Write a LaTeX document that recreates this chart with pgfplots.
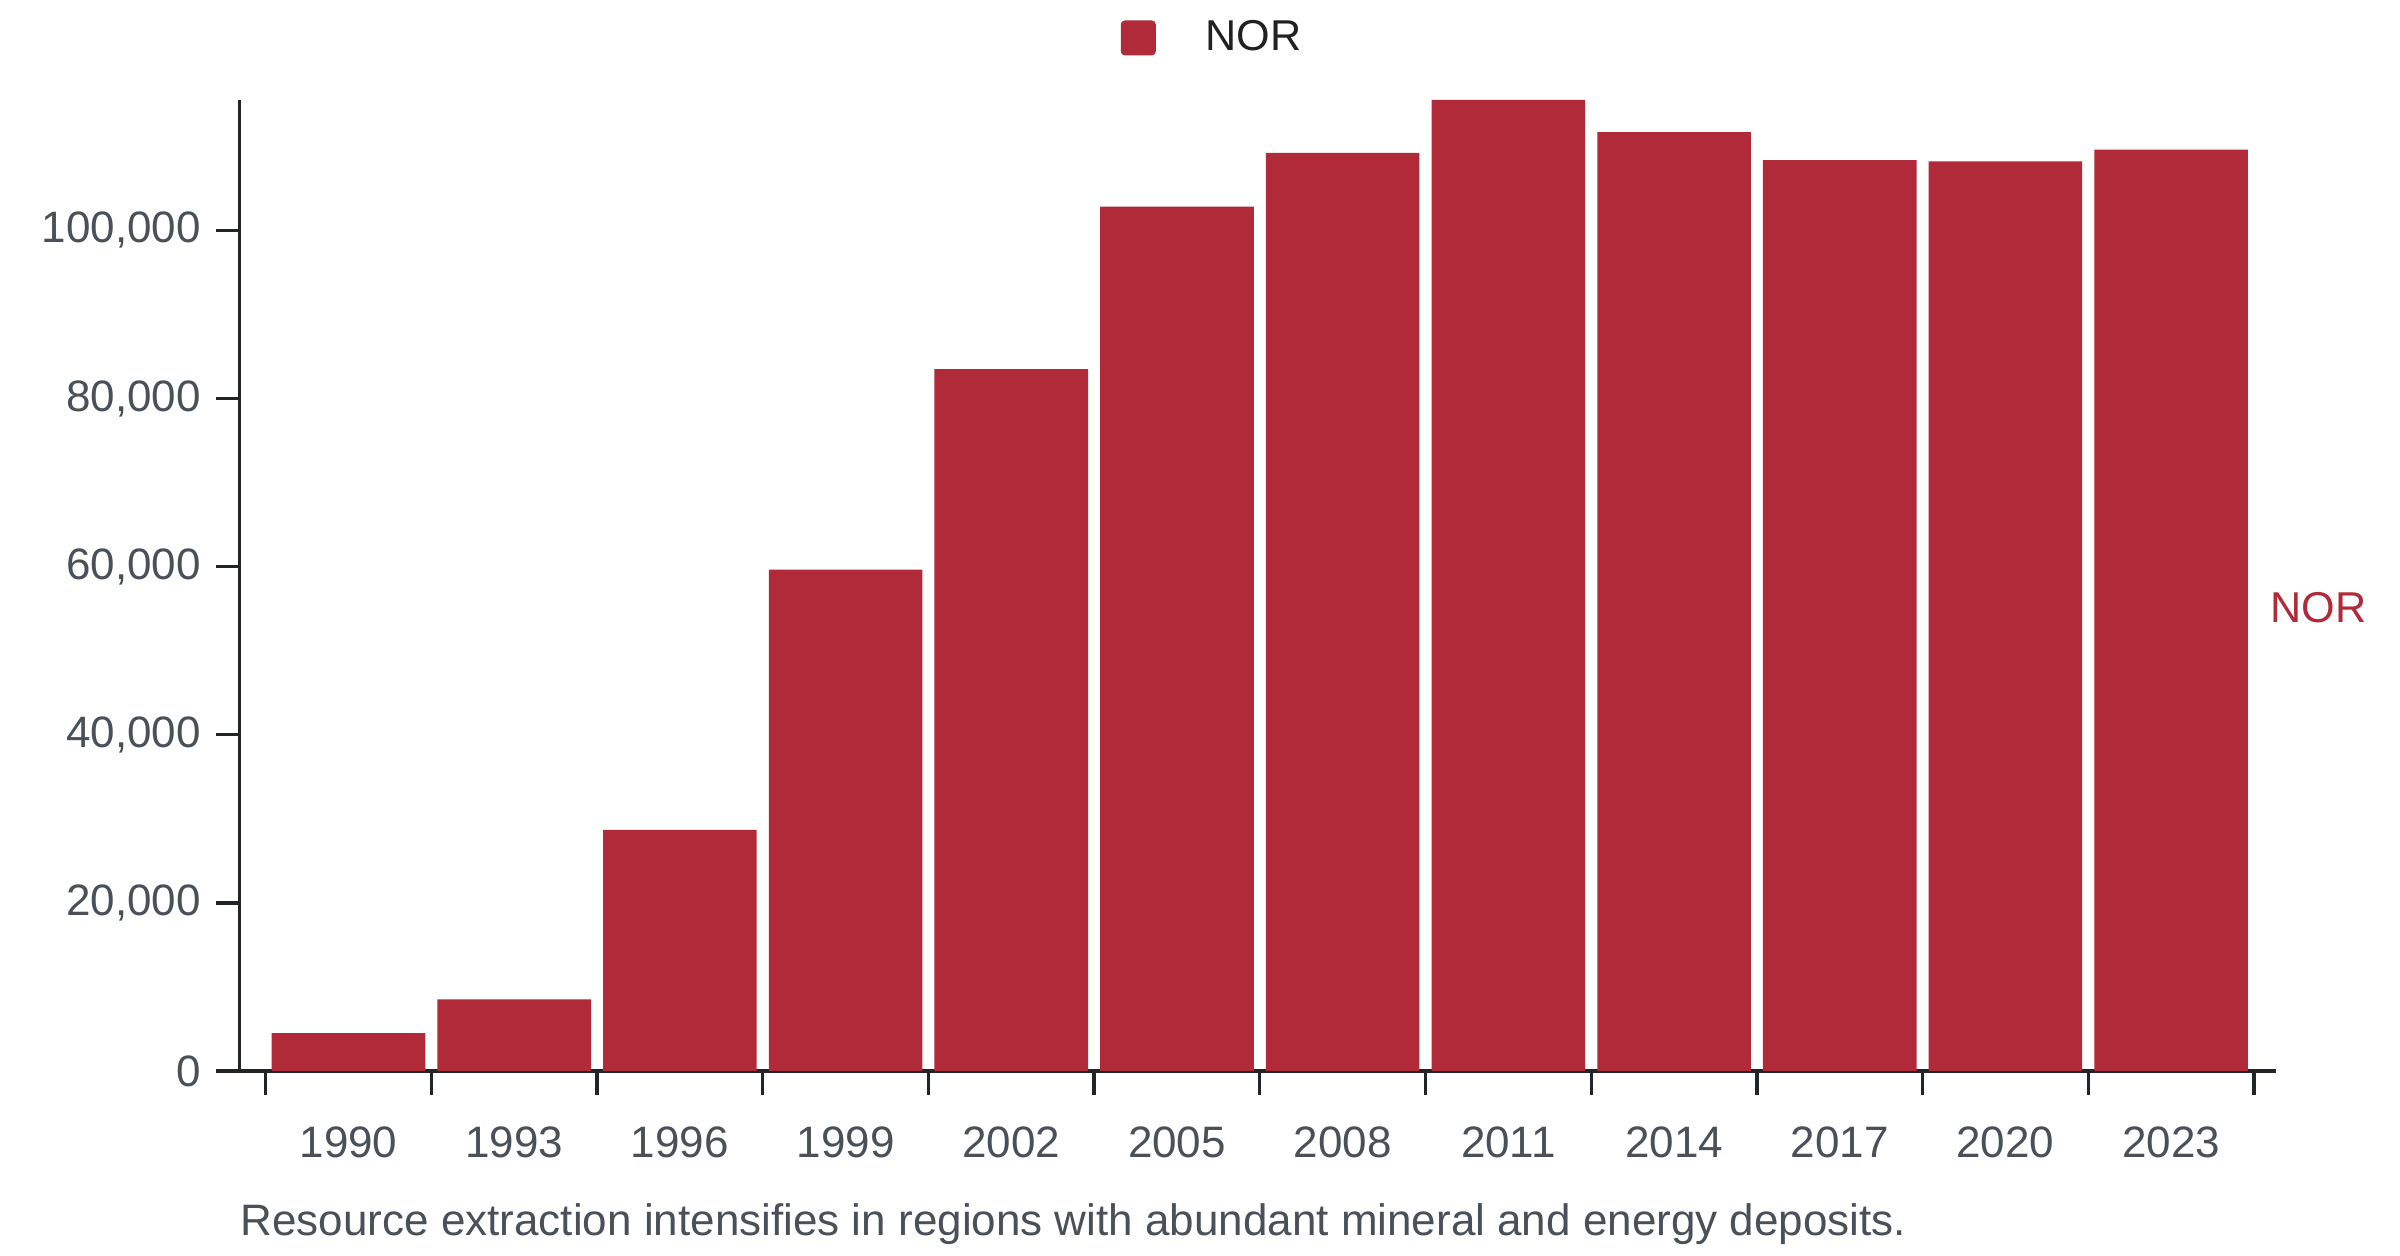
\documentclass[border=0pt]{standalone}
\usepackage{fontspec}
\setmainfont{Liberation Sans}
\usepackage{pgfplots}
\pgfplotsset{compat=1.18}
\definecolor{barred}{RGB}{177,42,57}
\definecolor{axisc}{RGB}{33,37,41}
\definecolor{tickc}{RGB}{73,80,87}
\newcommand{\f}{\fontsize{13.2}{15}\selectfont}
\newcommand{\fl}{\fontsize{12.95}{15}\selectfont}
\begin{document}
\begin{tikzpicture}
\path[use as bounding box] (-71.85pt,-55.5pt) rectangle (648.15pt,321.3pt);
\begin{axis}[
  name=ax,
  at={(0pt,0pt)}, anchor=south west,
  scale only axis, width=610.95pt, height=291.3pt,
  xmin=-0.658, xmax=11.633, ymin=0, ymax=115520,
  axis lines=left,
  axis line style={-, draw=axisc, line width=1.1pt},
  tick align=outside,
  major tick length=0pt,
  minor tick length=7.1pt,
  tick style={draw=axisc, line width=1pt},
  xtick={0,1,2,3,4,5,6,7,8,9,10,11},
  xticklabels={1990,1993,1996,1999,2002,2005,2008,2011,2014,2017,2020,2023},
  xticklabel style={yshift=-13.1pt},
  minor xtick={-0.5,0.5,1.5,2.5,3.5,4.5,5.5,6.5,7.5,8.5,9.5,10.5,11.5},
  ytick={0,20000,40000,60000,80000,100000},
  minor ytick={0,20000,40000,60000,80000,100000},
  yticklabel style={xshift=-8.1pt},
  scaled y ticks=false,
  /pgf/number format/fixed,
  /pgf/number format/1000 sep={,},
  /pgf/number format/assume math mode=true,
  ticklabel style={font=\f, text=tickc},
  legend style={at={(axis description cs:0.4324,1.0639)}, anchor=west,
    draw=none, fill=none, inner sep=0pt, font=\fl, text=black!87,
    nodes={inner sep=0pt}},
  legend image code/.code={
    \path[draw=none, fill=none] (0pt,-5.25pt) rectangle (25.5pt,5.25pt);
    \fill[barred, draw=none, rounded corners=1.2pt] (0pt,-5.25pt) rectangle (10.5pt,5.25pt);},
]
\addplot[ybar, bar width=0.927, fill=barred, draw=none] coordinates {
(0,4520) (1,8530) (2,28690) (3,59640) (4,83490) (5,102820)
(6,109240) (7,115520) (8,111690) (9,108370) (10,108230) (11,109600)};
\addlegendentry{NOR}
\end{axis}
\node[anchor=west, inner sep=0pt, font=\fl, text=barred] at ([xshift=609.15pt, yshift=139pt]ax.south west) {NOR};
\node[anchor=base west, inner sep=0pt, font=\f, text=tickc] at ([xshift=0.15pt, yshift=-49.5pt]ax.south west) {Resource extraction intensifies in regions with abundant mineral and energy deposits.};
\end{tikzpicture}
\end{document}
